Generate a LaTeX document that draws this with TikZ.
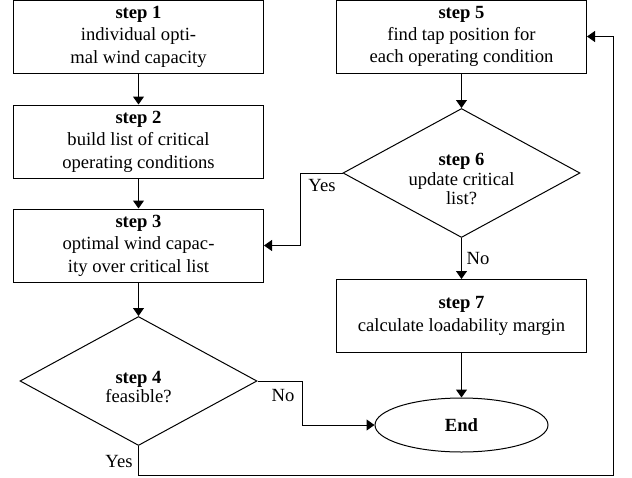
\documentclass[tikz,border=0pt]{standalone}
\usepackage{fontspec}
\setmainfont{Liberation Serif}
\usetikzlibrary{shapes.geometric,arrows.meta}
\begin{document}
\begin{tikzpicture}[x=0.5pt,y=-0.5pt,
  font=\fontsize{9.3}{11.2}\selectfont,
  every node/.style={inner sep=0pt},
  stepbox/.style={draw,line width=0.5pt,rectangle,minimum width=125pt,minimum height=36.5pt,align=center},
  decision/.style={draw,line width=0.5pt,diamond,minimum width=118.5pt,minimum height=64.5pt},
  dtext/.style={align=center,font=\fontsize{9.3}{9.75}\selectfont},
  terminal/.style={draw,line width=0.5pt,ellipse,minimum width=86.5pt,minimum height=27pt,align=center},
  flow/.style={line width=0.5pt,-{Triangle[width=5.5pt,length=4pt]}},
  lbl/.style={font=\fontsize{9.3}{11}\selectfont}]
\useasboundingbox (0,0) rectangle (632,477);
\node[stepbox] (s1) at (138.5,36.5) {\textbf{step 1}\\individual opti-\\mal wind capacity};
\node[stepbox] (s2) at (138.5,141.5) {\textbf{step 2}\\build list of critical\\operating conditions};
\node[stepbox] (s3) at (138.5,245.5) {\textbf{step 3}\\optimal wind capac-\\ity over critical list};
\node[decision] (s4) at (138.5,381) {};
\node[dtext] (s4t) at (138.5,387) {\textbf{step 4}\\feasible?};
\node[stepbox] (s5) at (461.5,36.5) {\textbf{step 5}\\find tap position for\\each operating condition};
\node[decision] (s6) at (461.5,173) {};
\node[dtext] (s6t) at (461.5,179) {\textbf{step 6}\\update critical\\list?};
\node[stepbox] (s7) at (461.5,316) {\textbf{step 7}\\calculate loadability margin};
\node[terminal] (end) at (461.5,425) {\textbf{End}};
\coordinate (yb) at (138.5,475);
\coordinate (yr) at (613,475);
\coordinate (nc) at (302,381);
\coordinate (yc) at (300,173);
\draw[flow] (s1) -- (s2);
\draw[flow] (s2) -- (s3);
\draw[flow] (s3) -- (s4);
\draw[flow] (s5) -- (s6);
\draw[flow] (s6) -- (s7);
\draw[flow] (s7) -- (end);
\draw[flow] (s4.east) -- (nc) |- (end.west);
\draw[flow] (s6.west) -- (yc) |- (s3.east);
\draw[flow] (s4.south) -- (yb) -- (yr) |- (s5.east);
\node[lbl] (no6) at (478,258) {No};
\node[lbl] (no4) at (283,395) {No};
\node[lbl] (yes4) at (119,461) {Yes};
\node[lbl] (yes6) at (322,185) {Yes};
\end{tikzpicture}
\end{document}
